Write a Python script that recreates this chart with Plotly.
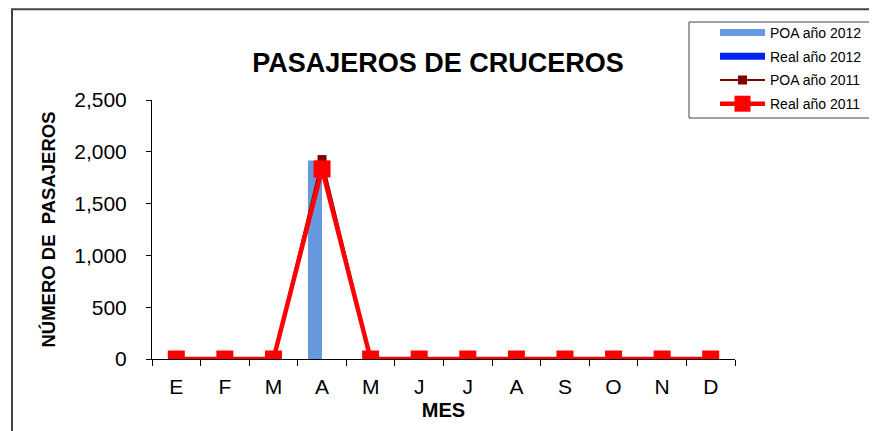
import plotly.graph_objects as go

meses = ["E", "F", "M", "A", "M", "J", "J", "A", "S", "O", "N", "D"]
poa_2012 = [0, 0, 0, 1915, 0, 0, 0, 0, 0, 0, 0, 0]
real_2012 = [0, 0, 0, 0, 0, 0, 0, 0, 0, 0, 0, 0]
poa_2011 = [0, 0, 0, 1925, 0, 0, 0, 0, 0, 0, 0, 0]
real_2011 = [0, 0, 0, 1835, 0, 0, 0, 0, 0, 0, 0, 0]

x = list(range(1, len(meses) + 1))
FONT = "Liberation Sans, Arial, sans-serif"
C_POA12, C_REAL12 = "#6699DD", "#0022EE"

fig = go.Figure()

fig.add_trace(go.Bar(x=x, y=poa_2012, name="POA año 2012", showlegend=False,
                     marker=dict(color=C_POA12, line=dict(width=0)), legendgroup="a"))
fig.add_trace(go.Bar(x=x, y=real_2012, name="Real año 2012", showlegend=False,
                     marker=dict(color=C_REAL12, line=dict(width=0)), legendgroup="b"))
# legend entries drawn as wide bands, like the spreadsheet legend
fig.add_trace(go.Scatter(x=[None], y=[None], mode="lines", name="POA año 2012",
                         line=dict(color=C_POA12, width=7), legendgroup="a"))
fig.add_trace(go.Scatter(x=[None], y=[None], mode="lines", name="Real año 2012",
                         line=dict(color=C_REAL12, width=7), legendgroup="b"))
fig.add_trace(go.Scatter(x=x, y=poa_2011, name="POA año 2011", mode="lines+markers",
                         line=dict(color="#800000", width=2),
                         marker=dict(symbol="square", size=9, color="#800000"),
                         legendgroup="c"))
fig.add_trace(go.Scatter(x=x, y=real_2011, name="Real año 2011", mode="lines+markers",
                         line=dict(color="#FF0000", width=4.5),
                         marker=dict(symbol="square", size=17, color="#FF0000"),
                         legendgroup="d"))

# page body has an 8px margin, so the figure is laid out 8px up/left
fig.update_layout(
    width=877, height=431,
    margin=dict(l=144, r=150, t=92, b=80, autoexpand=False),
    paper_bgcolor="white", plot_bgcolor="white",
    font=dict(family=FONT, color="black"),
    barmode="group", bargap=0.42, bargroupgap=0,
    title=dict(text="<b>PASAJEROS DE CRUCEROS</b>", x=430 / 877, xanchor="center",
               y=1 - 55 / 431, yanchor="middle", font=dict(size=27, family=FONT)),
    showlegend=True,
    legend=dict(x=(715 - 152) / 583, xanchor="left", y=(359 - 17) / 259, yanchor="top",
                borderwidth=0, bgcolor="rgba(0,0,0,0)",
                font=dict(size=14, family=FONT), tracegroupgap=2.5, itemwidth=45,
                traceorder="grouped"),
    xaxis=dict(range=[0.5, 12.5], tickvals=x, ticktext=meses, ticks="",
               showline=True, linecolor="black", linewidth=1, showgrid=False,
               zeroline=False, tickfont=dict(size=21), ticklabelstandoff=9,
               minor=dict(tickvals=[i + 0.5 for i in range(0, 13)], ticks="outside",
                          ticklen=6, tickcolor="black", showgrid=False),
               title=dict(text="<b>MES</b>", font=dict(size=20), standoff=5)),
    yaxis=dict(range=[0, 2500], dtick=500, tickformat=",", ticks="outside",
               ticklen=5, tickcolor="black", showline=True, linecolor="black",
               linewidth=1, showgrid=False, zeroline=False, tickfont=dict(size=21),
               ticklabelstandoff=15,
               title=dict(text="<b>NÚMERO DE  PASAJEROS</b>", font=dict(size=18.5),
                          standoff=13)),
)

# outer chart frame
fig.add_shape(type="rect", xref="paper", yref="paper",
              x0=(12 - 152) / 583, x1=1.5, y0=-0.6, y1=(351 - 1.2) / 259,
              line=dict(color="#444444", width=2), layer="below")
# legend box
fig.add_shape(type="rect", xref="paper", yref="paper",
              x0=(689 - 152) / 583, x1=(876 - 152) / 583,
              y0=(359 - 118) / 259, y1=(359 - 22) / 259,
              line=dict(color="#444444", width=1), fillcolor="white", layer="below")

fig.write_html("out.html")
